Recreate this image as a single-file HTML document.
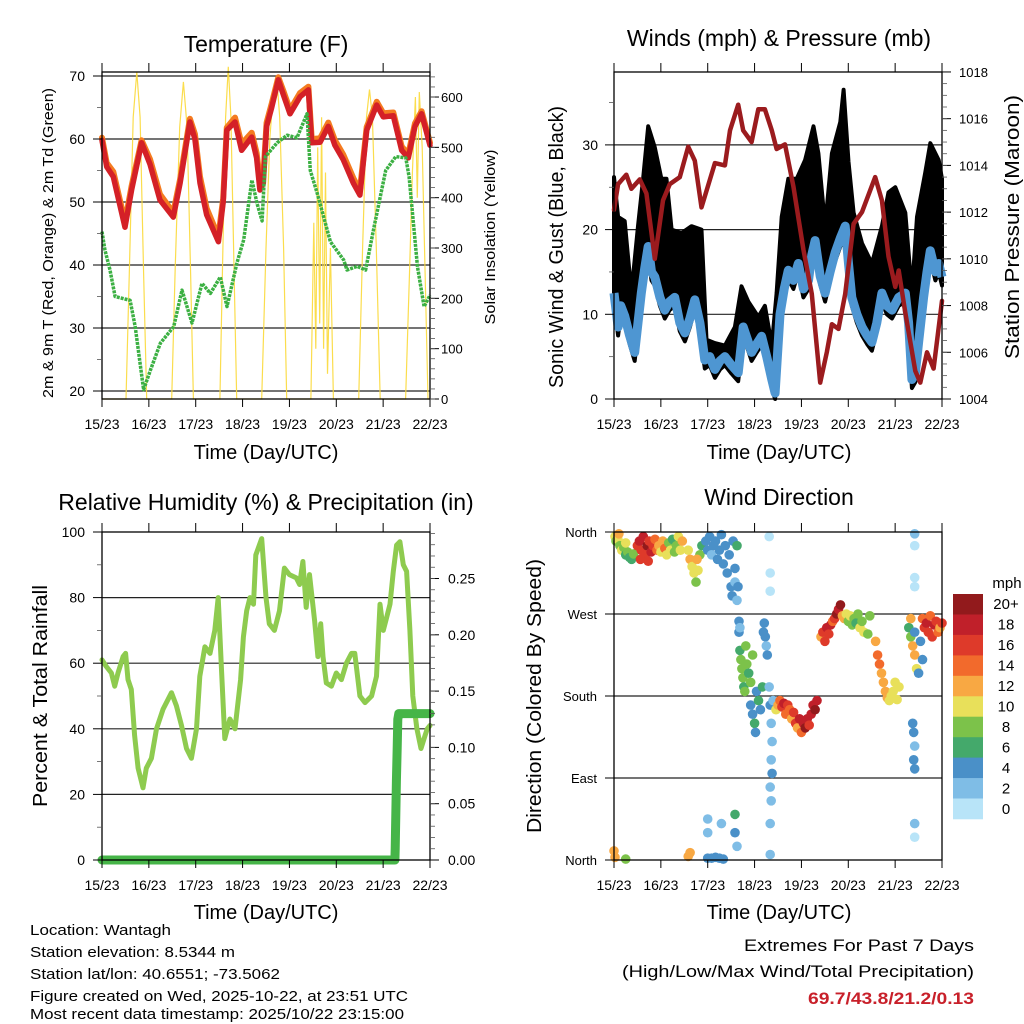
<!DOCTYPE html>
<html><head><meta charset="utf-8"><style>
html,body{margin:0;padding:0;background:#fff;}
svg{display:block;font-family:"Liberation Sans",Arial,sans-serif;}
</style></head><body>
<svg id="chart" width="1024" height="1024" viewBox="0 0 1024 1024" xmlns="http://www.w3.org/2000/svg">
<rect width="1024" height="1024" fill="#fff"/>
<g id="g1"></g>
<g id="g2"></g>
<g id="g3"></g>
<g id="g4"></g>
<g fill="#000" text-anchor="middle">
<text x="266" y="52" font-size="23">Temperature (F)</text>
<text x="779" y="46" font-size="23">Winds (mph) &amp; Pressure (mb)</text>
<text x="266" y="510" font-size="23">Relative Humidity (%) &amp; Precipitation (in)</text>
<text x="779" y="505" font-size="23">Wind Direction</text>
<text x="266" y="459" font-size="20">Time (Day/UTC)</text>
<text x="779" y="459" font-size="20">Time (Day/UTC)</text>
<text x="266" y="919" font-size="20">Time (Day/UTC)</text>
<text x="779" y="919" font-size="20">Time (Day/UTC)</text>
<text transform="translate(53,243) rotate(-90)" font-size="15" textLength="310" lengthAdjust="spacingAndGlyphs">2m &amp; 9m T (Red, Orange) &amp; 2m Td (Green)</text>
<text transform="translate(495,237) rotate(-90)" font-size="15" textLength="175" lengthAdjust="spacingAndGlyphs">Solar Insolation (Yellow)</text>
<text transform="translate(563,247) rotate(-90)" font-size="20" textLength="282" lengthAdjust="spacingAndGlyphs">Sonic Wind &amp; Gust (Blue, Black)</text>
<text transform="translate(1019,227) rotate(-90)" font-size="20" textLength="264" lengthAdjust="spacingAndGlyphs">Station Pressure (Maroon)</text>
<text transform="translate(47,696) rotate(-90)" font-size="20" textLength="222" lengthAdjust="spacingAndGlyphs">Percent &amp; Total Rainfall</text>
<text transform="translate(541,696) rotate(-90)" font-size="20" textLength="274" lengthAdjust="spacingAndGlyphs">Direction (Colored By Speed)</text>
</g>
<g font-size="14.5" fill="#000">
<text x="30" y="935" textLength="141" lengthAdjust="spacingAndGlyphs">Location: Wantagh</text>
<text x="30" y="957" textLength="205" lengthAdjust="spacingAndGlyphs">Station elevation: 8.5344 m</text>
<text x="30" y="979" textLength="250" lengthAdjust="spacingAndGlyphs">Station lat/lon: 40.6551; -73.5062</text>
<text x="30" y="1001" textLength="378" lengthAdjust="spacingAndGlyphs">Figure created on Wed, 2025-10-22, at 23:51 UTC</text>
<text x="30" y="1019" textLength="374" lengthAdjust="spacingAndGlyphs">Most recent data timestamp: 2025/10/22 23:15:00</text>
</g>
<g text-anchor="end" font-size="17">
<text x="974" y="951" textLength="230" lengthAdjust="spacingAndGlyphs">Extremes For Past 7 Days</text>
<text x="974" y="977" textLength="352" lengthAdjust="spacingAndGlyphs">(High/Low/Max Wind/Total Precipitation)</text>
<text x="974" y="1004" font-weight="bold" fill="#c8202a" textLength="166" lengthAdjust="spacingAndGlyphs">69.7/43.8/21.2/0.13</text>
</g>
</svg>
<script>
// ---------- DATA ----------
const dayLabels = ["15/23","16/23","17/23","18/23","19/23","20/23","21/23","22/23"];
// Temperature (F)
const tHours = [0,2.4,5.8,11.8,15.2,20.3,24.6,29.7,36.5,40,45,47.6,50.2,53.6,59.6,62.1,63.9,68.1,71.5,76.7,79.2,80.9,82.6,84.3,86.9,90.3,92.9,96.3,101.4,105.7,107.4,111.7,115.9,119.3,123.6,128.7,132.1,135.6,140.7,144.1,149.2,153.5,156.9,160.3,163.7,168];
const temp2m = [59.8,55.6,54,46,52,59.4,56,50.3,47.6,53,62.7,60,53,48,43.7,50,61.4,62.7,58.2,60.3,57,51.9,53,62,65,69.4,67,64,66.7,67.8,59.4,59.5,62,59,56.7,53,51.1,61.4,65.4,63.5,63.7,58.2,57,62,64,59];
const temp9m = [60.2,56.2,54.8,46.8,52.6,59.8,56.8,51.2,48.3,53.6,63.2,60.8,54,49,44.5,50.6,61.8,63.4,59.2,61,57.8,53.5,54,62.6,65.6,69.8,67.6,64.6,67.3,68.3,60,60.1,62.6,59.8,57.5,53.8,51.8,61.9,65.9,64.1,64.2,58.8,57.6,62.5,64.4,59.4];
const tdHours = [0,1.5,4.1,6.7,14.4,17,21.3,24.8,29.9,36.7,41,46.1,51.2,55.5,60.6,64,69.1,72.6,76.8,79.4,82,83.7,89.7,94.8,99.9,105,106.7,110.2,117,123.8,125.5,130.7,135,139.3,145.3,150.5,155.6,157.3,161.6,165,168];
const dewpt = [45.3,42.4,39.2,35,34.4,30.2,20.2,23.3,27.6,30.2,36,30.8,37.1,35.5,38.1,33.4,40.3,44,53.5,49.8,47,57.2,59.4,60.6,60.2,64,55,51.4,43.7,40.8,39.2,39.8,39.2,46,55,57.2,57,54,39.7,33.4,35.2];
// Solar insolation (W/m2)
const sHours = [0,12.3,14,16,17.8,19.5,21.3,22.9,35.7,37.5,39.8,41.7,43.6,45.4,46.8,60.4,61.8,63.3,64.7,66,67.5,69,81.8,84,86,88,89.5,91,93,94.6,107,108.5,109.5,110.5,111.5,112.5,113.5,114.5,115.5,117,118.5,131.5,133.5,135.5,137,138.5,140.5,142.5,155.5,157.5,159,160.5,161.5,162.5,164,165.5,167,168];
const solar = [0,0,250,560,650,560,250,0,0,260,540,630,540,250,0,0,280,560,660,560,280,0,0,300,520,620,640,560,300,0,0,350,100,500,150,560,100,450,50,300,0,0,300,560,615,560,300,0,0,250,450,600,400,610,500,250,0,0];
// Wind (mph) & pressure (mb)
const wHours = [0,2.1,3.5,5.5,8,10.6,12.3,14,15.8,17.5,19.2,20.9,23.5,26,28.5,31.1,33.7,36.3,38.9,41.4,44,46.5,49,51.7,54.3,56.8,60.2,63.6,66.2,68.4,70.5,73.1,75.6,78.2,80.8,82.5,85,87.2,89.3,91.9,94.4,97,99.6,101.3,103,105.6,108.1,110.7,113.3,115.9,118.4,120.1,121.8,124.4,127,129.6,132.1,134.6,137.2,139.8,142.4,145.8,149.2,150.9,152.6,154.3,156,158.6,160.3,162,164.6,166.3,168];
const wind = [12.5,8.5,11,9.8,7.5,5.5,9,12.5,15.5,18,15,14.4,12,10.5,11.5,12,9,7.8,9.5,11.7,9,4.6,5,3.5,4.5,5,4,3.1,8.5,7,5.5,6.5,7.4,5,2.3,0.7,10,13,15.2,14,16,13,14,17,18.7,14.5,12.5,15,17.3,19,20.4,16,12,10,8.5,7.5,6.7,9,12.5,11,10.5,12,12.5,9,2.3,3,6.7,12,15,17.5,15,16,14.4];
const gHours = [0,2.1,5.5,8.9,12.3,14.9,17.5,20.9,24.3,26.9,29.5,34.6,39.7,44.8,47.4,51.7,56.8,61.9,65.3,68.8,73.9,77.3,80.8,83.3,85.9,89.3,93.6,97.9,102.2,104.7,108.1,111.6,115.9,117.6,120.1,122.7,127,132.1,137.2,140.6,144.1,149.2,152.6,155.2,159.4,162,166.3,168];
const gust = [26.2,21.5,21,12.5,20.4,26,32.2,29.7,26,26,20,19.6,20.4,20,7,6.6,6.3,8.5,13.3,11.5,9.7,11,6.3,12.5,21.5,26,26,28.2,32.2,29,20.4,29,32.7,36.5,28,22,18.4,16,20.4,24.4,25,22,12.5,21.5,26.7,30.2,28.2,26];
const pHours = [0,2.1,6.3,8.9,13.2,16.6,20.9,25.1,28.6,33.7,38,41.4,44.8,51.7,56.8,59.4,63.6,66.2,70.5,73.9,77.3,80.8,83.3,87.6,91.9,97,101.3,105.6,109,111.6,115,118.4,122.7,127,133.8,137.2,140.6,144.1,145.8,149.2,154.3,156.9,160.3,163.7,168];
const pressure = [1012.1,1013.2,1013.6,1013.0,1013.4,1012.8,1010.0,1012.5,1013.2,1013.5,1014.8,1014.2,1012.2,1014.1,1014.0,1015.5,1016.6,1015.5,1015.0,1016.4,1016.4,1015.5,1014.7,1014.9,1013.1,1010.4,1008.5,1004.7,1006.0,1007.2,1007.0,1008.5,1011.5,1012.0,1013.5,1012.5,1010.1,1008.8,1009.5,1007.7,1005.2,1004.7,1006.0,1005.3,1008.2];
// Relative humidity (%) & precipitation (in)
const rhHours = [0,2.2,4.8,6.5,8.2,10.8,12.1,13.3,15,16.7,18.5,21,22.7,25.3,27.9,31.3,35.6,38.1,40.7,43.3,45.8,48.4,50.1,52.7,55.3,57.8,59.5,61.2,62.9,65.5,68.1,71,72.4,74.1,75.8,77.6,78.8,81.8,84,85.7,88.3,90.9,93.4,96,99.5,101.2,102.9,104.6,106.3,108.9,110.6,112,113.2,114.9,117.5,120,122.6,125.2,127.8,129.5,132.1,134.7,138.1,140.6,142.4,144.1,145.8,147.5,149.2,150.9,152.6,154.3,156,157.7,159.2,161.3,163.4,165.5,166.6,168];
const rh = [61,59,57,53,57,62,63,55,52,38,28,22,28,31,40,46,51,47,41,34,31,40,56,65,63,70,80,58,37,43,40,55,68,76,80,78,93,98,80,72,70,76,89,87,86,84,91,77,87,73,62,72,62,54,53,57,55,60,63,63,50,48,50,56,78,70,74,78,88,96,97,90,88,70,50,40,34,38,40,41];
const prHours = [0,150,150.2,150.5,150.8,151.2,151.5,152,168];
const precip = [0,0,0.01,0.04,0.07,0.10,0.125,0.13,0.13];
// Wind direction (deg) coloured by speed (mph) — grouped by episode, 10 per line
const dirHours = [
 0.5,1,2,3,4,5,6,7,8,9,
 10,2.5,6,12,13,14,15,16,17,18,
 19,20,21,22,13.5,17.5,23,24,25,26,
 27,28,29,30,31,32,33,34,35,38,
 39,40,41,42,43,44,45,42.5,47,48,
 49,50,51,52,53,54,55,56,57,58,
 59,60,61,62,63,60.5,62,63.5,63,64,
 64,64.5,64.5,65,65.5,66,66.5,67,68,69,
 70,71,67.5,70,71,72,73,74,75,76,
 72.5,77,77.5,78,78.5,76.5,79.5,80,80.5,81,
 80.5,81,80,80.5,80,80,81.5,83,84,85,
 86,87,88,89,90,91,92,93,94,95,
 96,97,98,99,100,101,102,103,104,106,
 107,108,109,110,111,112,113,114,115,116,
 117,118,119,120,121,122,123,124,125,126,
 127,128,130,131,134,135,136,137,138,139,
 140,141,142,143,144,145,146,151,152,153,
 154,155,156,157,158,152,154,153,153.5,154,
 153.5,154,158,159,160,161,162,163,164,165,
 166,167,168,0,0.5,6,38,39,48,50,
 52,54,56,48,48,55,62,62,63,79.5,
 80,80,154,154,154,154,154,154];
const dirDeg = [
 355,350,352,345,340,343,335,338,332,330,
 336,358,348,345,350,340,355,335,345,350,
 338,345,352,340,330,328,345,338,350,342,
 335,348,340,352,338,345,355,340,350,340,
 330,322,315,305,318,335,345,330,350,340,
 355,335,345,350,330,340,357,325,345,315,
 335,300,350,320,345,290,305,300,285,262,
 250,230,255,220,210,200,190,185,215,205,
 195,225,235,170,160,150,185,175,165,190,
 140,260,245,235,225,250,190,170,150,130,
 110,95,80,65,40,6,175,165,170,175,
 168,172,160,170,165,155,162,150,145,155,
 140,150,145,155,148,160,170,165,175,245,
 250,240,255,248,258,262,265,270,275,280,
 268,265,270,262,268,258,265,260,270,255,
 262,250,248,268,240,225,215,205,195,185,
 178,175,180,185,195,176,190,255,245,235,
 225,210,205,240,220,265,250,150,140,125,
 110,100,265,255,260,250,268,245,258,262,
 250,255,260,10,3,1,4,8,2,2,
 3,2,1,30,45,40,30,50,15,355,
 315,295,358,345,310,300,40,25];
const dirSpeed = [
 10,8,10,8,10,8,6,8,6,6,
 8,12,10,16,18,16,18,16,20,16,
 18,16,14,14,16,16,12,10,12,14,
 10,8,10,6,8,8,10,10,12,10,
 12,10,10,8,10,8,6,12,4,4,
 4,2,4,4,4,4,4,4,4,4,
 4,4,4,4,6,4,2,4,2,4,
 4,6,2,8,8,8,6,8,8,6,
 8,8,8,4,4,6,4,6,4,6,
 4,4,4,2,4,4,2,4,2,2,
 2,4,2,2,2,2,2,10,12,14,
 16,18,14,16,14,12,16,16,12,18,
 14,18,20,18,16,18,18,20,18,12,
 16,16,18,16,18,14,16,20,18,20,
 12,12,10,8,10,8,8,6,8,10,
 8,10,8,8,12,14,14,12,12,12,
 12,10,10,10,10,10,10,6,8,12,
 12,10,4,4,4,12,4,4,4,2,
 4,4,14,16,18,16,14,16,18,16,
 14,12,16,12,12,8,12,12,4,4,
 4,4,4,2,2,2,4,6,2,0,
 0,0,2,0,0,0,2,0];
const speedColors = ["#b8e4f8","#7fbde6","#4a90c8","#44a96b","#7cc24a","#e8e05a","#f8a843","#f26a2c","#de3a2a","#c0202a","#921a1c"];
const speedLabels = ["0","2","4","6","8","10","12","14","16","18","20+"];
const tempTicks = [20,30,40,50,60,70];
const solarTicks = [0,100,200,300,400,500,600];
const windTicks = [0,10,20,30];
const presTicks = [1004,1006,1008,1010,1012,1014,1016,1018];
const rhTicks = [0,20,40,60,80,100];
const precipTicks = [0,0.05,0.10,0.15,0.20,0.25];
const dirTicks = [0,90,180,270,360];
const dirNames = ["North","East","South","West","North"];

// ---------- HELPERS ----------
const NS="http://www.w3.org/2000/svg";
function mk(parent,tag,attrs){const e=document.createElementNS(NS,tag);for(const k in attrs)e.setAttribute(k,attrs[k]);parent.appendChild(e);return e;}
function txt(parent,x,y,s,size,anchor){const t=mk(parent,'text',{x:x,y:y,'font-size':size,'text-anchor':anchor});t.textContent=s;return t;}
function pts(hs,vs,sx,sy){return hs.map((h,i)=>sx(h).toFixed(1)+','+sy(vs[i]).toFixed(1)).join(' ');}

function frame(g,x0,x1,yT,yB,name){
  const f=mk(g,'rect',{x:x0,y:yT,width:x1-x0,height:yB-yT,fill:'none',stroke:'#000','stroke-width':1.3});
  
  
}
function dayAxis(g,x0,x1,yT,yB,labelY,name){
  const ax=mk(g,'g',{'font-size':14});
  
  
  dayLabels.forEach((d,i)=>{
    const x=x0+i*(x1-x0)/7;
    mk(ax,'line',{x1:x,x2:x,y1:yT-9,y2:yT,stroke:'#000','stroke-width':1});
    mk(ax,'line',{x1:x,x2:x,y1:yB,y2:yB+8,stroke:'#000','stroke-width':1});
    const t=txt(ax,x,labelY,d,14,'middle');
    
    
  });
}
function yAxis(g,ticks,sy,x,side,labels,labelX,minor,name,fs){
  const ax=mk(g,'g',{});
  
  
  const d=side==='left'?-1:1;
  ticks.forEach((v,i)=>{
    const y=sy(v);
    mk(ax,'line',{x1:x,x2:x+d*9,y1:y,y2:y,stroke:'#000','stroke-width':1});
    const t=txt(ax,labelX,y+5,labels?labels[i]:String(v),fs||14,side==='left'?'end':'start');
    
    
  });
  if(minor){for(const v of minor){const y=sy(v);mk(ax,'line',{x1:x,x2:x+d*5,y1:y,y2:y,stroke:'#555','stroke-width':0.8});}}
}
function grid(g,x0,x1,ys,name){
  const gg=mk(g,'g',{stroke:'#222','stroke-width':1.2});
  
  
  ys.forEach(y=>mk(gg,'line',{x1:x0,x2:x1,y1:y,y2:y}));
}
function range(a,b,s){const r=[];for(let v=a;v<=b+1e-9;v+=s)r.push(+v.toFixed(4));return r;}

// ---------- PANEL 1: TEMPERATURE ----------
(function(){
  const g=document.getElementById('g1');
  const x0=102,x1=430,yT=72,yB=399;
  const sx=h=>x0+h/168*(x1-x0);
  const sy=t=>391-(t-20)*6.3;
  const ss=s=>399-s*0.5033;
  grid(g,x0,x1,tempTicks.map(sy),'temp');
  const sol=mk(g,'polyline',{points:pts(sHours,solar,sx,ss),fill:'none',stroke:'#fbd93a','stroke-width':1.2,'stroke-opacity':0.9});
  
  
  const l9=mk(g,'polyline',{points:pts(tHours,temp9m,sx,sy),fill:'none',stroke:'#f47b20','stroke-width':6,'stroke-linejoin':'round','stroke-linecap':'round'});
  
  
  const l2=mk(g,'polyline',{points:pts(tHours,temp2m,sx,sy),fill:'none',stroke:'#d42027','stroke-width':5.5,'stroke-linejoin':'round','stroke-linecap':'round'});
  
  
  const td=mk(g,'polyline',{points:pts(tdHours,dewpt,sx,sy),fill:'none',stroke:'#3cb043','stroke-width':3.5,'stroke-dasharray':'3 1','stroke-linejoin':'round'});
  
  
  frame(g,x0,x1,yT,yB,'temp');
  dayAxis(g,x0,x1,yT,yB,429,'temp');
  yAxis(g,tempTicks,sy,x0,'left',null,85,range(25,65,10),'temp-y-axis',14);
  yAxis(g,solarTicks,ss,x1,'right',null,441,range(0,640,20),'solar-y-axis',13);
})();

// ---------- PANEL 2: WINDS ----------
(function(){
  const g=document.getElementById('g2');
  const x0=614,x1=942,yT=72,yB=399;
  const sx=h=>x0+h/168*(x1-x0);
  const sw=w=>399-w*8.47;
  const sp=p=>399-(p-1004)*23.36;
  grid(g,x0,x1,[10,20,30].map(sw),'wind');
  const poly=gHours.map((h,i)=>sx(h).toFixed(1)+','+sw(gust[i]).toFixed(1));
  for(let i=wHours.length-1;i>=0;i--)poly.push(sx(wHours[i]).toFixed(1)+','+sw(Math.max(0,wind[i]-1)).toFixed(1));
  const gp=mk(g,'polygon',{points:poly.join(' '),fill:'#000',stroke:'#000','stroke-width':4,'stroke-linejoin':'round'});
  
  
  const wl=mk(g,'polyline',{points:pts(wHours,wind,sx,sw),fill:'none',stroke:'#4e96d2','stroke-width':9,'stroke-linejoin':'round'});
  
  
  const pl=mk(g,'polyline',{points:pts(pHours,pressure,sx,sp),fill:'none',stroke:'#9b1b1e','stroke-width':4.5,'stroke-linejoin':'round','stroke-linecap':'round'});
  
  
  frame(g,x0,x1,yT,yB,'wind');
  dayAxis(g,x0,x1,yT,yB,429,'wind');
  yAxis(g,windTicks,sw,x0,'left',null,598,[5,15,25,35],'wind-y-axis',14);
  yAxis(g,presTicks,sp,x1,'right',null,959,range(1004.5,1017.5,0.5),'pressure-y-axis',13);
})();

// ---------- PANEL 3: HUMIDITY ----------
(function(){
  const g=document.getElementById('g3');
  const x0=102,x1=430,yT=532,yB=860;
  const sx=h=>x0+h/168*(x1-x0);
  const sr=r=>860-r*3.28;
  const sq=p=>860-p*1126;
  grid(g,x0,x1,[20,40,60,80].map(sr),'humidity');
  const rl=mk(g,'polyline',{points:pts(rhHours,rh,sx,sr),fill:'none',stroke:'#8ecb4f','stroke-width':5,'stroke-linejoin':'round','stroke-linecap':'round'});
  
  
  const pl=mk(g,'polyline',{points:pts(prHours,precip,sx,sq),fill:'none',stroke:'#46b548','stroke-width':9,'stroke-linejoin':'round','stroke-linecap':'round'});
  
  
  frame(g,x0,x1,yT,yB,'humidity');
  dayAxis(g,x0,x1,yT,yB,890,'humidity');
  yAxis(g,rhTicks,sr,x0,'left',null,85,range(10,90,20),'humidity-y-axis',14);
  yAxis(g,precipTicks,sq,x1,'right',["0.00","0.05","0.10","0.15","0.20","0.25"],448,range(0.01,0.29,0.01),'precip-y-axis',14);
})();

// ---------- PANEL 4: WIND DIRECTION ----------
(function(){
  const g=document.getElementById('g4');
  const x0=614,x1=942,yT=532,yB=860;
  const sx=h=>x0+h/168*(x1-x0);
  const sd=d=>860-d/360*328;
  grid(g,x0,x1,[90,180,270].map(sd),'direction');
  const dots=mk(g,'g',{});
  
  
  dirHours.forEach((h,i)=>{
    const sp=dirSpeed[i]===undefined?4:dirSpeed[i];
    const idx=Math.max(0,Math.min(10,Math.round(sp/2)));
    const c=mk(dots,'circle',{cx:sx(h).toFixed(1),cy:sd(dirDeg[i]).toFixed(1),r:4.8,fill:speedColors[idx]});
    
    
  });
  frame(g,x0,x1,yT,yB,'direction');
  dayAxis(g,x0,x1,yT,yB,890,'direction');
  yAxis(g,dirTicks,sd,x0,'left',dirNames,597,null,'direction-y-axis',13);
  const cb=mk(g,'g',{});
  
  
  const top=594,h=(819-594)/11;
  for(let k=0;k<11;k++){
    const idx=10-k;
    const r=mk(cb,'rect',{x:953,y:(top+k*h).toFixed(1),width:30,height:(h+0.3).toFixed(1),fill:speedColors[idx]});
    
    
    const t=txt(cb,1006,top+k*h+h/2+5,speedLabels[idx],15,'middle');
    
    
  }
  const u=txt(cb,1007,588,'mph',15,'middle');
  
  
})();
</script>
</body></html>
